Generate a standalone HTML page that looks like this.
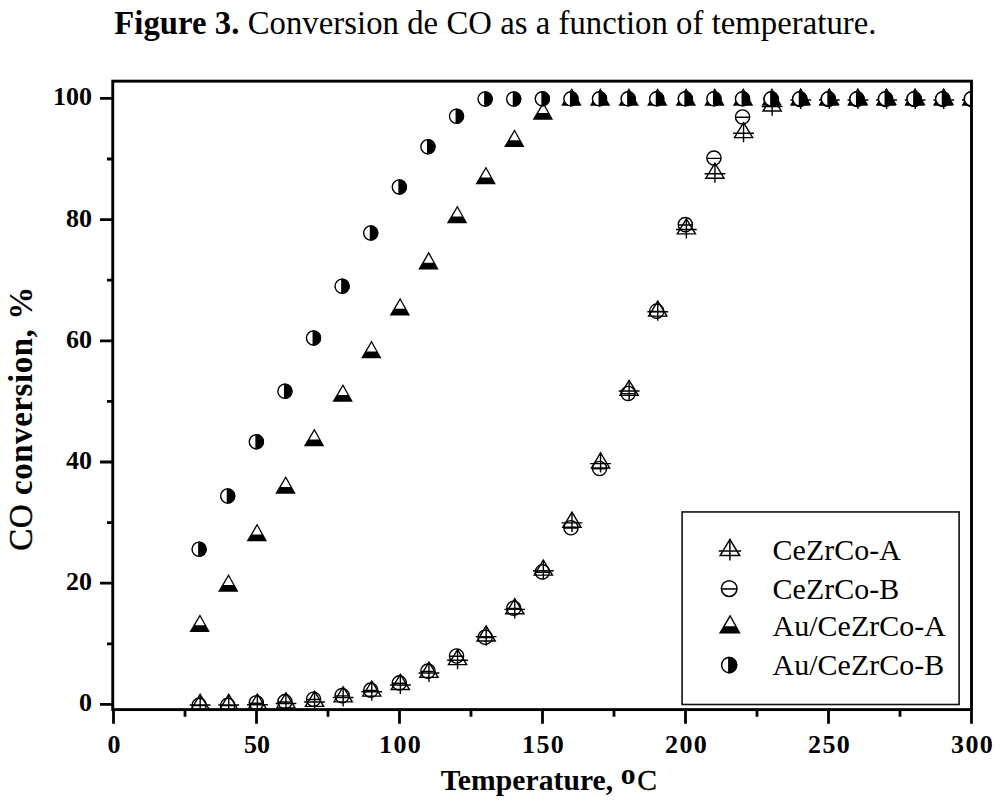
<!DOCTYPE html>
<html lang="en">
<head>
<meta charset="utf-8">
<title>Figure 3. Conversion de CO as a function of temperature.</title>
<style>
html,body{margin:0;padding:0;background:#fff;}
body{width:1000px;height:805px;overflow:hidden;font-family:"Liberation Serif","Times New Roman",serif;color:#000;}
svg{display:block;}
text{font-family:"Liberation Serif","Times New Roman",serif;fill:#000;}
.tl text{font-weight:bold;font-size:26px;}
.mk{stroke:#000;stroke-width:1.4;stroke-linejoin:miter;}
</style>
</head>
<body>
<svg width="1000" height="805" viewBox="0 0 1000 805">
<rect width="1000" height="805" fill="#fff"/>
<text x="114.3" y="33.7" font-size="32.7" letter-spacing="0.055" id="title"><tspan font-weight="bold">Figure 3.</tspan> Conversion de CO as a function of temperature.</text>
<defs><clipPath id="plot"><rect x="113" y="81" width="859" height="628.5"/></clipPath></defs>
<g clip-path="url(#plot)" class="mk">
<g><g transform="translate(200.15,705.00) scale(1)"><path d="M0,-10.7 L9.1,4.4 L-9.1,4.4 Z" fill="none"/><path d="M-10.4,0 H10.4 M0,-10.7 V9.0"/></g><g transform="translate(228.75,705.00) scale(1)"><path d="M0,-10.7 L9.1,4.4 L-9.1,4.4 Z" fill="none"/><path d="M-10.4,0 H10.4 M0,-10.7 V9.0"/></g><g transform="translate(257.35,704.70) scale(1)"><path d="M0,-10.7 L9.1,4.4 L-9.1,4.4 Z" fill="none"/><path d="M-10.4,0 H10.4 M0,-10.7 V9.0"/></g><g transform="translate(285.95,703.49) scale(1)"><path d="M0,-10.7 L9.1,4.4 L-9.1,4.4 Z" fill="none"/><path d="M-10.4,0 H10.4 M0,-10.7 V9.0"/></g><g transform="translate(314.55,701.98) scale(1)"><path d="M0,-10.7 L9.1,4.4 L-9.1,4.4 Z" fill="none"/><path d="M-10.4,0 H10.4 M0,-10.7 V9.0"/></g><g transform="translate(343.15,697.44) scale(1)"><path d="M0,-10.7 L9.1,4.4 L-9.1,4.4 Z" fill="none"/><path d="M-10.4,0 H10.4 M0,-10.7 V9.0"/></g><g transform="translate(371.75,691.69) scale(1)"><path d="M0,-10.7 L9.1,4.4 L-9.1,4.4 Z" fill="none"/><path d="M-10.4,0 H10.4 M0,-10.7 V9.0"/></g><g transform="translate(400.35,685.03) scale(1)"><path d="M0,-10.7 L9.1,4.4 L-9.1,4.4 Z" fill="none"/><path d="M-10.4,0 H10.4 M0,-10.7 V9.0"/></g><g transform="translate(428.95,672.93) scale(1)"><path d="M0,-10.7 L9.1,4.4 L-9.1,4.4 Z" fill="none"/><path d="M-10.4,0 H10.4 M0,-10.7 V9.0"/></g><g transform="translate(457.55,660.23) scale(1)"><path d="M0,-10.7 L9.1,4.4 L-9.1,4.4 Z" fill="none"/><path d="M-10.4,0 H10.4 M0,-10.7 V9.0"/></g><g transform="translate(486.15,636.63) scale(1)"><path d="M0,-10.7 L9.1,4.4 L-9.1,4.4 Z" fill="none"/><path d="M-10.4,0 H10.4 M0,-10.7 V9.0"/></g><g transform="translate(514.75,609.41) scale(1)"><path d="M0,-10.7 L9.1,4.4 L-9.1,4.4 Z" fill="none"/><path d="M-10.4,0 H10.4 M0,-10.7 V9.0"/></g><g transform="translate(543.35,570.69) scale(1)"><path d="M0,-10.7 L9.1,4.4 L-9.1,4.4 Z" fill="none"/><path d="M-10.4,0 H10.4 M0,-10.7 V9.0"/></g><g transform="translate(571.95,522.89) scale(1)"><path d="M0,-10.7 L9.1,4.4 L-9.1,4.4 Z" fill="none"/><path d="M-10.4,0 H10.4 M0,-10.7 V9.0"/></g><g transform="translate(600.55,463.61) scale(1)"><path d="M0,-10.7 L9.1,4.4 L-9.1,4.4 Z" fill="none"/><path d="M-10.4,0 H10.4 M0,-10.7 V9.0"/></g><g transform="translate(629.15,391.00) scale(1)"><path d="M0,-10.7 L9.1,4.4 L-9.1,4.4 Z" fill="none"/><path d="M-10.4,0 H10.4 M0,-10.7 V9.0"/></g><g transform="translate(657.75,311.75) scale(1)"><path d="M0,-10.7 L9.1,4.4 L-9.1,4.4 Z" fill="none"/><path d="M-10.4,0 H10.4 M0,-10.7 V9.0"/></g><g transform="translate(686.35,229.47) scale(1)"><path d="M0,-10.7 L9.1,4.4 L-9.1,4.4 Z" fill="none"/><path d="M-10.4,0 H10.4 M0,-10.7 V9.0"/></g><g transform="translate(714.95,173.81) scale(1)"><path d="M0,-10.7 L9.1,4.4 L-9.1,4.4 Z" fill="none"/><path d="M-10.4,0 H10.4 M0,-10.7 V9.0"/></g><g transform="translate(743.55,133.27) scale(1)"><path d="M0,-10.7 L9.1,4.4 L-9.1,4.4 Z" fill="none"/><path d="M-10.4,0 H10.4 M0,-10.7 V9.0"/></g><g transform="translate(772.15,106.65) scale(1)"><path d="M0,-10.7 L9.1,4.4 L-9.1,4.4 Z" fill="none"/><path d="M-10.4,0 H10.4 M0,-10.7 V9.0"/></g><g transform="translate(800.75,100.00) scale(1)"><path d="M0,-10.7 L9.1,4.4 L-9.1,4.4 Z" fill="none"/><path d="M-10.4,0 H10.4 M0,-10.7 V9.0"/></g><g transform="translate(829.35,100.00) scale(1)"><path d="M0,-10.7 L9.1,4.4 L-9.1,4.4 Z" fill="none"/><path d="M-10.4,0 H10.4 M0,-10.7 V9.0"/></g><g transform="translate(857.95,100.00) scale(1)"><path d="M0,-10.7 L9.1,4.4 L-9.1,4.4 Z" fill="none"/><path d="M-10.4,0 H10.4 M0,-10.7 V9.0"/></g><g transform="translate(886.55,100.00) scale(1)"><path d="M0,-10.7 L9.1,4.4 L-9.1,4.4 Z" fill="none"/><path d="M-10.4,0 H10.4 M0,-10.7 V9.0"/></g><g transform="translate(915.15,100.00) scale(1)"><path d="M0,-10.7 L9.1,4.4 L-9.1,4.4 Z" fill="none"/><path d="M-10.4,0 H10.4 M0,-10.7 V9.0"/></g><g transform="translate(943.75,100.00) scale(1)"><path d="M0,-10.7 L9.1,4.4 L-9.1,4.4 Z" fill="none"/><path d="M-10.4,0 H10.4 M0,-10.7 V9.0"/></g><g transform="translate(972.35,100.00) scale(1)"><path d="M0,-10.7 L9.1,4.4 L-9.1,4.4 Z" fill="none"/><path d="M-10.4,0 H10.4 M0,-10.7 V9.0"/></g></g>
<g><g transform="translate(199.15,705.30) scale(1)"><circle r="7.1" fill="none"/><path d="M-7.1,0.3 H7.1"/></g><g transform="translate(227.75,705.30) scale(1)"><circle r="7.1" fill="none"/><path d="M-7.1,0.3 H7.1"/></g><g transform="translate(256.35,702.88) scale(1)"><circle r="7.1" fill="none"/><path d="M-7.1,0.3 H7.1"/></g><g transform="translate(284.95,701.67) scale(1)"><circle r="7.1" fill="none"/><path d="M-7.1,0.3 H7.1"/></g><g transform="translate(313.55,699.25) scale(1)"><circle r="7.1" fill="none"/><path d="M-7.1,0.3 H7.1"/></g><g transform="translate(342.15,695.62) scale(1)"><circle r="7.1" fill="none"/><path d="M-7.1,0.3 H7.1"/></g><g transform="translate(370.75,690.17) scale(1)"><circle r="7.1" fill="none"/><path d="M-7.1,0.3 H7.1"/></g><g transform="translate(399.35,682.91) scale(1)"><circle r="7.1" fill="none"/><path d="M-7.1,0.3 H7.1"/></g><g transform="translate(427.95,671.12) scale(1)"><circle r="7.1" fill="none"/><path d="M-7.1,0.3 H7.1"/></g><g transform="translate(456.55,656.00) scale(1)"><circle r="7.1" fill="none"/><path d="M-7.1,0.3 H7.1"/></g><g transform="translate(485.15,637.25) scale(1)"><circle r="7.1" fill="none"/><path d="M-7.1,0.3 H7.1"/></g><g transform="translate(513.75,608.21) scale(1)"><circle r="7.1" fill="none"/><path d="M-7.1,0.3 H7.1"/></g><g transform="translate(542.35,571.90) scale(1)"><circle r="7.1" fill="none"/><path d="M-7.1,0.3 H7.1"/></g><g transform="translate(570.95,527.74) scale(1)"><circle r="7.1" fill="none"/><path d="M-7.1,0.3 H7.1"/></g><g transform="translate(599.55,468.45) scale(1)"><circle r="7.1" fill="none"/><path d="M-7.1,0.3 H7.1"/></g><g transform="translate(628.15,393.43) scale(1)"><circle r="7.1" fill="none"/><path d="M-7.1,0.3 H7.1"/></g><g transform="translate(656.75,311.15) scale(1)"><circle r="7.1" fill="none"/><path d="M-7.1,0.3 H7.1"/></g><g transform="translate(685.35,224.64) scale(1)"><circle r="7.1" fill="none"/><path d="M-7.1,0.3 H7.1"/></g><g transform="translate(713.95,158.09) scale(1)"><circle r="7.1" fill="none"/><path d="M-7.1,0.3 H7.1"/></g><g transform="translate(742.55,116.95) scale(1)"><circle r="7.1" fill="none"/><path d="M-7.1,0.3 H7.1"/></g><g transform="translate(771.15,99.40) scale(1)"><circle r="7.1" fill="none"/><path d="M-7.1,0.3 H7.1"/></g><g transform="translate(799.75,99.40) scale(1)"><circle r="7.1" fill="none"/><path d="M-7.1,0.3 H7.1"/></g><g transform="translate(828.35,99.40) scale(1)"><circle r="7.1" fill="none"/><path d="M-7.1,0.3 H7.1"/></g><g transform="translate(856.95,99.40) scale(1)"><circle r="7.1" fill="none"/><path d="M-7.1,0.3 H7.1"/></g><g transform="translate(885.55,99.40) scale(1)"><circle r="7.1" fill="none"/><path d="M-7.1,0.3 H7.1"/></g><g transform="translate(914.15,99.40) scale(1)"><circle r="7.1" fill="none"/><path d="M-7.1,0.3 H7.1"/></g><g transform="translate(942.75,99.40) scale(1)"><circle r="7.1" fill="none"/><path d="M-7.1,0.3 H7.1"/></g><g transform="translate(971.35,99.40) scale(1)"><circle r="7.1" fill="none"/><path d="M-7.1,0.3 H7.1"/></g></g>
<g><g transform="translate(199.65,626.20) scale(1)" stroke="none"><path d="M0.3,-12 L10.2,5.8 L-10.2,5.8 Z" fill="#000"/><path d="M0.3,-9.43 L5.0,-0.9 L-4.6,-0.9 Z" fill="#fff"/></g><g transform="translate(228.25,585.95) scale(1)" stroke="none"><path d="M0.3,-12 L10.2,5.8 L-10.2,5.8 Z" fill="#000"/><path d="M0.3,-9.43 L5.0,-0.9 L-4.6,-0.9 Z" fill="#fff"/></g><g transform="translate(256.85,535.45) scale(1)" stroke="none"><path d="M0.3,-12 L10.2,5.8 L-10.2,5.8 Z" fill="#000"/><path d="M0.3,-9.43 L5.0,-0.9 L-4.6,-0.9 Z" fill="#fff"/></g><g transform="translate(285.45,487.95) scale(1)" stroke="none"><path d="M0.3,-12 L10.2,5.8 L-10.2,5.8 Z" fill="#000"/><path d="M0.3,-9.43 L5.0,-0.9 L-4.6,-0.9 Z" fill="#fff"/></g><g transform="translate(314.05,440.45) scale(1)" stroke="none"><path d="M0.3,-12 L10.2,5.8 L-10.2,5.8 Z" fill="#000"/><path d="M0.3,-9.43 L5.0,-0.9 L-4.6,-0.9 Z" fill="#fff"/></g><g transform="translate(342.65,395.95) scale(1)" stroke="none"><path d="M0.3,-12 L10.2,5.8 L-10.2,5.8 Z" fill="#000"/><path d="M0.3,-9.43 L5.0,-0.9 L-4.6,-0.9 Z" fill="#fff"/></g><g transform="translate(371.25,352.45) scale(1)" stroke="none"><path d="M0.3,-12 L10.2,5.8 L-10.2,5.8 Z" fill="#000"/><path d="M0.3,-9.43 L5.0,-0.9 L-4.6,-0.9 Z" fill="#fff"/></g><g transform="translate(399.85,309.70) scale(1)" stroke="none"><path d="M0.3,-12 L10.2,5.8 L-10.2,5.8 Z" fill="#000"/><path d="M0.3,-9.43 L5.0,-0.9 L-4.6,-0.9 Z" fill="#fff"/></g><g transform="translate(428.45,263.60) scale(1)" stroke="none"><path d="M0.3,-12 L10.2,5.8 L-10.2,5.8 Z" fill="#000"/><path d="M0.3,-9.43 L5.0,-0.9 L-4.6,-0.9 Z" fill="#fff"/></g><g transform="translate(457.05,217.45) scale(1)" stroke="none"><path d="M0.3,-12 L10.2,5.8 L-10.2,5.8 Z" fill="#000"/><path d="M0.3,-9.43 L5.0,-0.9 L-4.6,-0.9 Z" fill="#fff"/></g><g transform="translate(485.65,178.45) scale(1)" stroke="none"><path d="M0.3,-12 L10.2,5.8 L-10.2,5.8 Z" fill="#000"/><path d="M0.3,-9.43 L5.0,-0.9 L-4.6,-0.9 Z" fill="#fff"/></g><g transform="translate(514.25,141.20) scale(1)" stroke="none"><path d="M0.3,-12 L10.2,5.8 L-10.2,5.8 Z" fill="#000"/><path d="M0.3,-9.43 L5.0,-0.9 L-4.6,-0.9 Z" fill="#fff"/></g><g transform="translate(542.85,113.90) scale(1)" stroke="none"><path d="M0.3,-12 L10.2,5.8 L-10.2,5.8 Z" fill="#000"/><path d="M0.3,-9.43 L5.0,-0.9 L-4.6,-0.9 Z" fill="#fff"/></g><g transform="translate(571.45,100.00) scale(1)" stroke="none"><path d="M0.3,-12 L10.2,5.8 L-10.2,5.8 Z" fill="#000"/><path d="M0.3,-9.43 L5.0,-0.9 L-4.6,-0.9 Z" fill="#fff"/></g><g transform="translate(600.05,100.00) scale(1)" stroke="none"><path d="M0.3,-12 L10.2,5.8 L-10.2,5.8 Z" fill="#000"/><path d="M0.3,-9.43 L5.0,-0.9 L-4.6,-0.9 Z" fill="#fff"/></g><g transform="translate(628.65,100.00) scale(1)" stroke="none"><path d="M0.3,-12 L10.2,5.8 L-10.2,5.8 Z" fill="#000"/><path d="M0.3,-9.43 L5.0,-0.9 L-4.6,-0.9 Z" fill="#fff"/></g><g transform="translate(657.25,100.00) scale(1)" stroke="none"><path d="M0.3,-12 L10.2,5.8 L-10.2,5.8 Z" fill="#000"/><path d="M0.3,-9.43 L5.0,-0.9 L-4.6,-0.9 Z" fill="#fff"/></g><g transform="translate(685.85,100.00) scale(1)" stroke="none"><path d="M0.3,-12 L10.2,5.8 L-10.2,5.8 Z" fill="#000"/><path d="M0.3,-9.43 L5.0,-0.9 L-4.6,-0.9 Z" fill="#fff"/></g><g transform="translate(714.45,100.00) scale(1)" stroke="none"><path d="M0.3,-12 L10.2,5.8 L-10.2,5.8 Z" fill="#000"/><path d="M0.3,-9.43 L5.0,-0.9 L-4.6,-0.9 Z" fill="#fff"/></g><g transform="translate(743.05,100.00) scale(1)" stroke="none"><path d="M0.3,-12 L10.2,5.8 L-10.2,5.8 Z" fill="#000"/><path d="M0.3,-9.43 L5.0,-0.9 L-4.6,-0.9 Z" fill="#fff"/></g><g transform="translate(771.65,100.00) scale(1)" stroke="none"><path d="M0.3,-12 L10.2,5.8 L-10.2,5.8 Z" fill="#000"/><path d="M0.3,-9.43 L5.0,-0.9 L-4.6,-0.9 Z" fill="#fff"/></g><g transform="translate(800.25,100.00) scale(1)" stroke="none"><path d="M0.3,-12 L10.2,5.8 L-10.2,5.8 Z" fill="#000"/><path d="M0.3,-9.43 L5.0,-0.9 L-4.6,-0.9 Z" fill="#fff"/></g><g transform="translate(828.85,100.00) scale(1)" stroke="none"><path d="M0.3,-12 L10.2,5.8 L-10.2,5.8 Z" fill="#000"/><path d="M0.3,-9.43 L5.0,-0.9 L-4.6,-0.9 Z" fill="#fff"/></g><g transform="translate(857.45,100.00) scale(1)" stroke="none"><path d="M0.3,-12 L10.2,5.8 L-10.2,5.8 Z" fill="#000"/><path d="M0.3,-9.43 L5.0,-0.9 L-4.6,-0.9 Z" fill="#fff"/></g><g transform="translate(886.05,100.00) scale(1)" stroke="none"><path d="M0.3,-12 L10.2,5.8 L-10.2,5.8 Z" fill="#000"/><path d="M0.3,-9.43 L5.0,-0.9 L-4.6,-0.9 Z" fill="#fff"/></g><g transform="translate(914.65,100.00) scale(1)" stroke="none"><path d="M0.3,-12 L10.2,5.8 L-10.2,5.8 Z" fill="#000"/><path d="M0.3,-9.43 L5.0,-0.9 L-4.6,-0.9 Z" fill="#fff"/></g><g transform="translate(943.25,100.00) scale(1)" stroke="none"><path d="M0.3,-12 L10.2,5.8 L-10.2,5.8 Z" fill="#000"/><path d="M0.3,-9.43 L5.0,-0.9 L-4.6,-0.9 Z" fill="#fff"/></g><g transform="translate(971.85,100.00) scale(1)" stroke="none"><path d="M0.3,-12 L10.2,5.8 L-10.2,5.8 Z" fill="#000"/><path d="M0.3,-9.43 L5.0,-0.9 L-4.6,-0.9 Z" fill="#fff"/></g></g>
<g><g transform="translate(199.15,549.25) scale(1)"><circle r="7.1" fill="#fff"/><path d="M-0.3,-7.1 A7.1,7.1 0 0 1 -0.3,7.1 Z" fill="#000"/></g><g transform="translate(227.75,496.00) scale(1)"><circle r="7.1" fill="#fff"/><path d="M-0.3,-7.1 A7.1,7.1 0 0 1 -0.3,7.1 Z" fill="#000"/></g><g transform="translate(256.35,441.80) scale(1)"><circle r="7.1" fill="#fff"/><path d="M-0.3,-7.1 A7.1,7.1 0 0 1 -0.3,7.1 Z" fill="#000"/></g><g transform="translate(284.95,391.25) scale(1)"><circle r="7.1" fill="#fff"/><path d="M-0.3,-7.1 A7.1,7.1 0 0 1 -0.3,7.1 Z" fill="#000"/></g><g transform="translate(313.55,338.00) scale(1)"><circle r="7.1" fill="#fff"/><path d="M-0.3,-7.1 A7.1,7.1 0 0 1 -0.3,7.1 Z" fill="#000"/></g><g transform="translate(342.15,286.25) scale(1)"><circle r="7.1" fill="#fff"/><path d="M-0.3,-7.1 A7.1,7.1 0 0 1 -0.3,7.1 Z" fill="#000"/></g><g transform="translate(370.75,233.00) scale(1)"><circle r="7.1" fill="#fff"/><path d="M-0.3,-7.1 A7.1,7.1 0 0 1 -0.3,7.1 Z" fill="#000"/></g><g transform="translate(399.35,187.00) scale(1)"><circle r="7.1" fill="#fff"/><path d="M-0.3,-7.1 A7.1,7.1 0 0 1 -0.3,7.1 Z" fill="#000"/></g><g transform="translate(427.95,146.75) scale(1)"><circle r="7.1" fill="#fff"/><path d="M-0.3,-7.1 A7.1,7.1 0 0 1 -0.3,7.1 Z" fill="#000"/></g><g transform="translate(456.55,116.25) scale(1)"><circle r="7.1" fill="#fff"/><path d="M-0.3,-7.1 A7.1,7.1 0 0 1 -0.3,7.1 Z" fill="#000"/></g><g transform="translate(485.15,99.00) scale(1)"><circle r="7.1" fill="#fff"/><path d="M-0.3,-7.1 A7.1,7.1 0 0 1 -0.3,7.1 Z" fill="#000"/></g><g transform="translate(513.75,99.00) scale(1)"><circle r="7.1" fill="#fff"/><path d="M-0.3,-7.1 A7.1,7.1 0 0 1 -0.3,7.1 Z" fill="#000"/></g><g transform="translate(542.35,98.80) scale(1)"><circle r="7.1" fill="#fff"/><path d="M-0.3,-7.1 A7.1,7.1 0 0 1 -0.3,7.1 Z" fill="#000"/></g><g transform="translate(570.95,98.80) scale(1)"><circle r="7.1" fill="#fff"/><path d="M-0.3,-7.1 A7.1,7.1 0 0 1 -0.3,7.1 Z" fill="#000"/></g><g transform="translate(599.55,98.80) scale(1)"><circle r="7.1" fill="#fff"/><path d="M-0.3,-7.1 A7.1,7.1 0 0 1 -0.3,7.1 Z" fill="#000"/></g><g transform="translate(628.15,98.80) scale(1)"><circle r="7.1" fill="#fff"/><path d="M-0.3,-7.1 A7.1,7.1 0 0 1 -0.3,7.1 Z" fill="#000"/></g><g transform="translate(656.75,98.80) scale(1)"><circle r="7.1" fill="#fff"/><path d="M-0.3,-7.1 A7.1,7.1 0 0 1 -0.3,7.1 Z" fill="#000"/></g><g transform="translate(685.35,98.80) scale(1)"><circle r="7.1" fill="#fff"/><path d="M-0.3,-7.1 A7.1,7.1 0 0 1 -0.3,7.1 Z" fill="#000"/></g><g transform="translate(713.95,98.80) scale(1)"><circle r="7.1" fill="#fff"/><path d="M-0.3,-7.1 A7.1,7.1 0 0 1 -0.3,7.1 Z" fill="#000"/></g><g transform="translate(742.55,98.80) scale(1)"><circle r="7.1" fill="#fff"/><path d="M-0.3,-7.1 A7.1,7.1 0 0 1 -0.3,7.1 Z" fill="#000"/></g><g transform="translate(771.15,98.80) scale(1)"><circle r="7.1" fill="#fff"/><path d="M-0.3,-7.1 A7.1,7.1 0 0 1 -0.3,7.1 Z" fill="#000"/></g><g transform="translate(799.75,98.80) scale(1)"><circle r="7.1" fill="#fff"/><path d="M-0.3,-7.1 A7.1,7.1 0 0 1 -0.3,7.1 Z" fill="#000"/></g><g transform="translate(828.35,98.80) scale(1)"><circle r="7.1" fill="#fff"/><path d="M-0.3,-7.1 A7.1,7.1 0 0 1 -0.3,7.1 Z" fill="#000"/></g><g transform="translate(856.95,98.80) scale(1)"><circle r="7.1" fill="#fff"/><path d="M-0.3,-7.1 A7.1,7.1 0 0 1 -0.3,7.1 Z" fill="#000"/></g><g transform="translate(885.55,98.80) scale(1)"><circle r="7.1" fill="#fff"/><path d="M-0.3,-7.1 A7.1,7.1 0 0 1 -0.3,7.1 Z" fill="#000"/></g><g transform="translate(914.15,98.80) scale(1)"><circle r="7.1" fill="#fff"/><path d="M-0.3,-7.1 A7.1,7.1 0 0 1 -0.3,7.1 Z" fill="#000"/></g><g transform="translate(942.75,98.80) scale(1)"><circle r="7.1" fill="#fff"/><path d="M-0.3,-7.1 A7.1,7.1 0 0 1 -0.3,7.1 Z" fill="#000"/></g><g transform="translate(971.35,98.80) scale(1)"><circle r="7.1" fill="#fff"/><path d="M-0.3,-7.1 A7.1,7.1 0 0 1 -0.3,7.1 Z" fill="#000"/></g></g>
</g>
<rect x="112.75" y="81.15" width="858.75" height="628.45" fill="none" stroke="#000" stroke-width="2.9"/>
<path d="M113.50,709 V723.8 M185.00,709 V716.8 M256.50,709 V723.8 M328.00,709 V716.8 M399.50,709 V723.8 M471.00,709 V716.8 M542.50,709 V723.8 M614.00,709 V716.8 M685.50,709 V723.8 M757.00,709 V716.8 M828.50,709 V723.8 M900.00,709 V716.8 M971.50,709 V723.8 M100,704.40 H112.75 M107,643.80 H112.75 M100,583.20 H112.75 M107,522.60 H112.75 M100,462.00 H112.75 M107,401.40 H112.75 M100,340.80 H112.75 M107,280.20 H112.75 M100,219.60 H112.75 M107,159.00 H112.75 M100,98.40 H112.75" stroke="#000" stroke-width="2.8" fill="none"/>
<g class="tl"><text x="113.9" y="752.7" text-anchor="middle">0</text><text x="256.9" y="752.7" text-anchor="middle">50</text><text x="400.6" y="752.7" text-anchor="middle" letter-spacing="1.4">100</text><text x="543.6" y="752.7" text-anchor="middle" letter-spacing="1.4">150</text><text x="686.6" y="752.7" text-anchor="middle" letter-spacing="1.4">200</text><text x="829.6" y="752.7" text-anchor="middle" letter-spacing="1.4">250</text><text x="972.6" y="752.7" text-anchor="middle" letter-spacing="1.4">300</text><text x="92.1" y="711.4" text-anchor="end">0</text><text x="92.1" y="590.2" text-anchor="end">20</text><text x="92.1" y="469.1" text-anchor="end">40</text><text x="92.1" y="347.9" text-anchor="end">60</text><text x="92.1" y="226.7" text-anchor="end">80</text><text x="92.1" y="105.4" text-anchor="end">100</text></g>
<text id="xl" x="440.8" y="789.5" font-size="29.6" font-weight="bold" letter-spacing="0.05">Temperature, <tspan dy="-5.5" dx="0.2">o</tspan><tspan dy="5.5" dx="1.5" font-weight="normal" stroke="#000" stroke-width="0.4">C</tspan></text>
<text id="yl" transform="translate(31.7,550.8) rotate(-90)" font-size="33" letter-spacing="0.55" font-weight="bold"><tspan font-weight="normal" stroke="#000" stroke-width="0.45">CO</tspan> conversion, %</text>
<rect x="682.1" y="511.95" width="277" height="192.55" fill="#fff" stroke="#111" stroke-width="1.6"/>
<g class="mk">
<g transform="translate(729.90,550.90) scale(1.07)"><path d="M0,-10.7 L9.1,4.4 L-9.1,4.4 Z" fill="none"/><path d="M-10.4,0 H10.4 M0,-10.7 V9.0"/></g>
<g transform="translate(729.20,588.60) scale(1.1)"><circle r="7.1" fill="none"/><path d="M-7.1,0.3 H7.1"/></g>
<g transform="translate(729.80,627.30) scale(1.07)" stroke="none"><path d="M0.3,-12 L10.2,5.8 L-10.2,5.8 Z" fill="#000"/><path d="M0.3,-9.43 L5.0,-0.9 L-4.6,-0.9 Z" fill="#fff"/></g>
<g transform="translate(729.20,665.10) scale(1.07)"><circle r="7.1" fill="#fff"/><path d="M-0.3,-7.1 A7.1,7.1 0 0 1 -0.3,7.1 Z" fill="#000"/></g>
</g>
<g font-size="29.9" letter-spacing="0.05" id="leg">
<text x="772.6" y="559.6">CeZrCo-A</text>
<text x="772.6" y="598.6">CeZrCo-B</text>
<text x="772.6" y="636.2">Au/CeZrCo-A</text>
<text x="772.6" y="674.6">Au/CeZrCo-B</text>
</g>
</svg>
</body>
</html>
